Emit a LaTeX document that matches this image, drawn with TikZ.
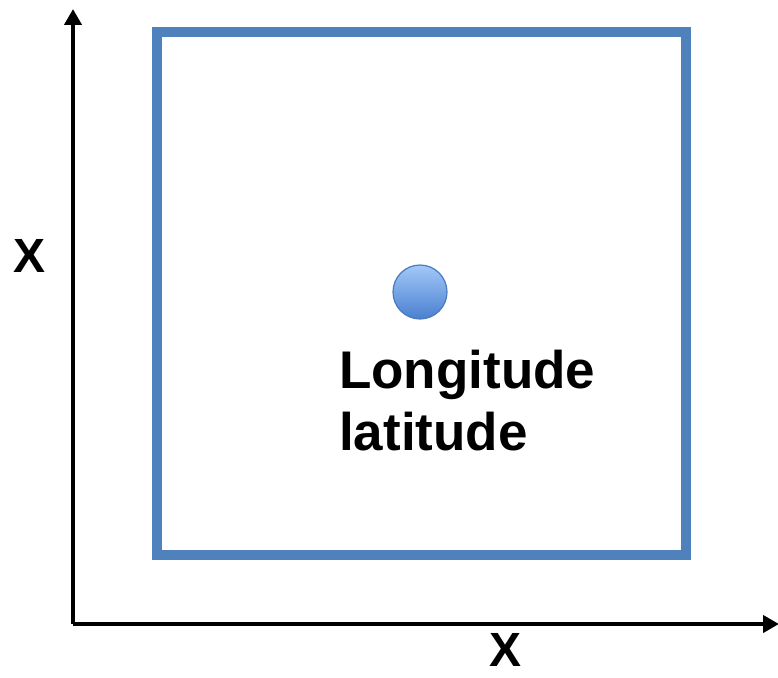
\documentclass[tikz,border=0pt]{standalone}
\usepackage{fontspec}
\setmainfont{Liberation Sans}
\usetikzlibrary{arrows.meta}
\definecolor{boxblue}{HTML}{4F81BD}
\definecolor{dottop}{HTML}{A3C8F8}
\definecolor{dotbot}{HTML}{4A80D0}
\definecolor{dotedge}{HTML}{4A7BBD}
\tikzset{
  axis/.style={line width=4.8pt,-{Triangle[width=17pt,length=16pt]}},
  lbl/.style={font=\bfseries\fontsize{48}{52}\selectfont,inner sep=0pt},
  big/.style={font=\bfseries\fontsize{53}{62}\selectfont,inner sep=0pt,align=left}
}
\begin{document}
\begin{tikzpicture}[x=1pt,y=-1pt]
\useasboundingbox (0,0) rectangle (778,677);
\coordinate (o) at (73,624);
\coordinate (ytip) at (73,9);
\coordinate (xtip) at (779,624);
\draw[axis] (o) -- (ytip);
\draw[axis] (o) -- (xtip);
\draw[boxblue,line width=10pt] (157,32) rectangle (686,555);
\shade[top color=dottop,bottom color=dotbot,draw=dotedge,line width=1.2pt] (420,292) circle (27);
\node[big,anchor=base west] (lon) at (339,388) {Longitude};
\node[big,anchor=base west] (lat) at (339,450) {latitude};
\node[lbl,anchor=base west] (xl) at (13,272) {X};
\node[lbl,anchor=base west] (xb) at (489,666) {X};
\end{tikzpicture}
\end{document}
